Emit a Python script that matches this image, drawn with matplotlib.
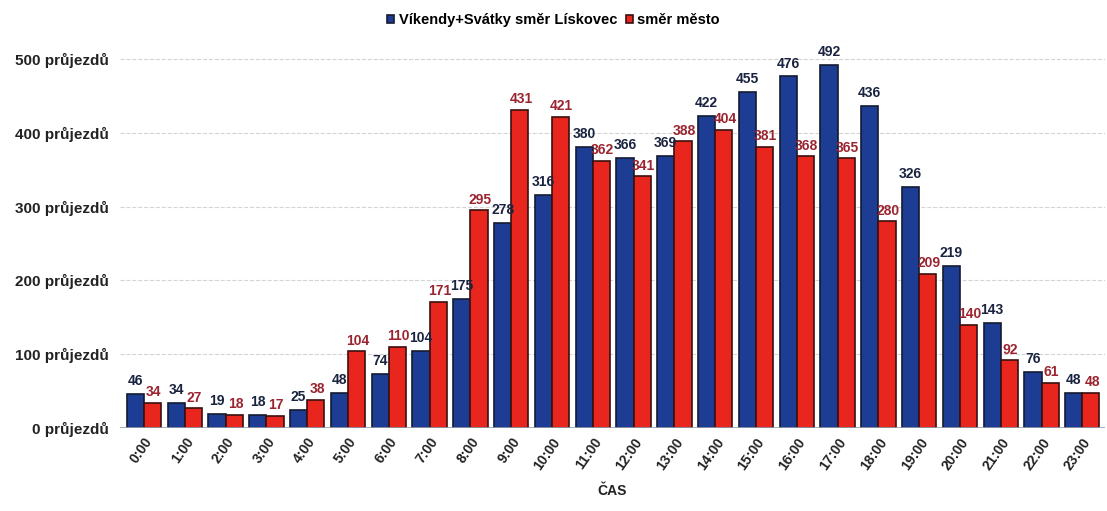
import numpy as np
import matplotlib
matplotlib.use("Agg")
import matplotlib.pyplot as plt

plt.rcParams['font.family'] = ['Liberation Sans', 'DejaVu Sans']

hours = ["0:00", "1:00", "2:00", "3:00", "4:00", "5:00", "6:00", "7:00", "8:00", "9:00",
         "10:00", "11:00", "12:00", "13:00", "14:00", "15:00", "16:00", "17:00", "18:00",
         "19:00", "20:00", "21:00", "22:00", "23:00"]
liskovec = [46, 34, 19, 18, 25, 48, 74, 104, 175, 278, 316, 380, 366, 369, 422, 455, 476,
            492, 436, 326, 219, 143, 76, 48]
mesto = [34, 27, 18, 17, 38, 104, 110, 171, 295, 431, 421, 362, 341, 388, 404, 381, 368,
         365, 280, 209, 140, 92, 61, 48]
yticks = [0, 100, 200, 300, 400, 500]
ytick_labels = [f"{v} průjezdů" for v in yticks]

blue = "#1d3c94"
red = "#e8261e"

fig = plt.figure(figsize=(11.07, 5.11), dpi=100)
ax = fig.add_axes([0.108, 0.162, 0.89, 0.752])

x = np.arange(len(hours))
w = 0.42
ax.bar(x - w / 2, liskovec, w, color=blue, edgecolor="#141a30", linewidth=1.2,
       label="Víkendy+Svátky směr Lískovec")
ax.bar(x + w / 2, mesto, w, color=red, edgecolor="#3a1010", linewidth=1.2,
       label="směr město")

# value labels above each bar
for i in range(len(hours)):
    ax.text(x[i] - w / 2, liskovec[i] + 8, str(liskovec[i]), ha="center", va="bottom",
            fontsize=10, fontweight="bold", color="#1a2440")
    ax.text(x[i] + w / 2 + 0.03, mesto[i] + 5, str(mesto[i]), ha="center", va="bottom",
            fontsize=10, fontweight="bold", color="#9a2530")

ax.set_ylim(0, 520)
ax.set_xlim(-0.6, len(hours) - 0.45)
ax.set_yticks(yticks)
ax.set_yticklabels(ytick_labels, fontsize=11, fontweight="bold", color="#222222")
ax.set_xticks(x)
ax.set_xticklabels(hours, rotation=55, ha="right", rotation_mode="anchor",
                   fontsize=10, fontweight="bold", color="#222222")
ax.tick_params(axis="y", length=0, pad=8)
ax.tick_params(axis="x", length=0, pad=5)
ax.grid(axis="y", color="#d4d4d4", linestyle="--", linewidth=0.8)
ax.set_axisbelow(True)
for s in ax.spines.values():
    s.set_visible(False)
ax.axhline(0, color="#9aa0b0", linewidth=1.2)

ax.set_xlabel("ČAS", fontsize=10, fontweight="bold", color="#222222", labelpad=8)

fig.legend(loc="upper center", bbox_to_anchor=(0.5, 1.0), ncol=2, frameon=False,
           handlelength=0.5, handleheight=0.5, handletextpad=0.3,
           columnspacing=0.6, prop={'weight': 'bold', 'size': 10.5})

fig.savefig("out.png", dpi=100)
